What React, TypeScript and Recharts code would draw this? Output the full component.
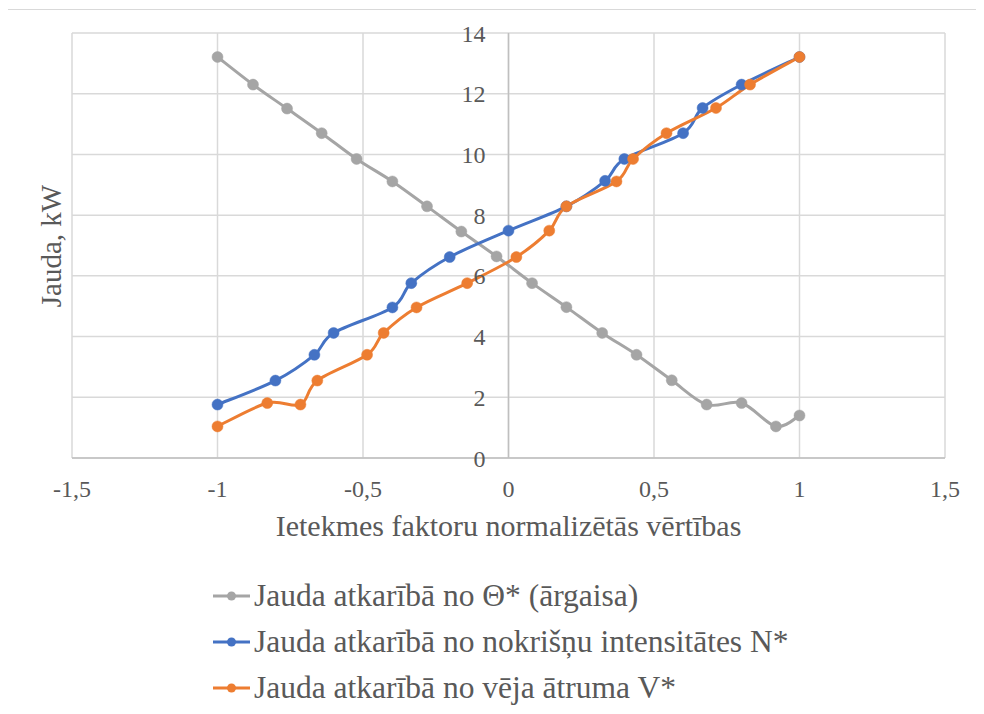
import { LineChart, Line, XAxis, YAxis, CartesianGrid, ReferenceLine, Legend } from 'recharts';

// Jauda atkarībā no Θ* (ārgaisa temperatūra)
const thetaX = [-1, -0.878, -0.761, -0.642, -0.522, -0.399, -0.28, -0.162, -0.041, 0.081, 0.199, 0.322, 0.44, 0.561, 0.681, 0.801, 0.919, 1];
const thetaPower = [13.21, 12.3, 11.51, 10.7, 9.85, 9.11, 8.29, 7.46, 6.64, 5.76, 4.97, 4.12, 3.4, 2.56, 1.76, 1.81, 1.04, 1.4];

// Jauda atkarībā no nokrišņu intensitātes N*
const rainX = [-1, -0.801, -0.667, -0.601, -0.399, -0.334, -0.202, 0, 0.199, 0.332, 0.398, 0.6, 0.667, 0.801, 1];
const rainPower = [1.76, 2.55, 3.4, 4.12, 4.96, 5.76, 6.62, 7.49, 8.29, 9.13, 9.85, 10.7, 11.53, 12.3, 13.21];

// Jauda atkarībā no vēja ātruma V*
const windX = [-1, -0.829, -0.715, -0.657, -0.486, -0.429, -0.316, -0.142, 0.027, 0.14, 0.199, 0.371, 0.428, 0.543, 0.713, 0.83, 1];
const windPower = [1.04, 1.81, 1.76, 2.55, 3.4, 4.12, 4.96, 5.76, 6.62, 7.49, 8.29, 9.11, 9.85, 10.7, 11.53, 12.3, 13.21];

const xTicks = [-1.5, -1, -0.5, 0, 0.5, 1, 1.5];
const yTicks = [0, 2, 4, 6, 8, 10, 12, 14];

const series = [
  { key: 'theta', name: 'Jauda atkarībā no Θ* (ārgaisa)', color: '#A5A5A5', xs: thetaX, ys: thetaPower },
  { key: 'rain', name: 'Jauda atkarībā no nokrišņu intensitātes N*', color: '#4472C4', xs: rainX, ys: rainPower },
  { key: 'wind', name: 'Jauda atkarībā no vēja ātruma V*', color: '#ED7D31', xs: windX, ys: windPower },
];

const toRows = (xs: number[], ys: number[]) => xs.map((x, i) => ({ x, y: ys[i] }));

// spreadsheet-style smoothed line: Catmull-Rom segments drawn as cubic beziers
const smoothCurve = (context: any) => {
  let pts: [number, number][] = [];
  return {
    areaStart() {},
    areaEnd() {},
    lineStart() {
      pts = [];
    },
    point(x: number, y: number) {
      pts.push([+x, +y]);
    },
    lineEnd() {
      if (!pts.length) return;
      context.moveTo(pts[0][0], pts[0][1]);
      for (let i = 0; i < pts.length - 1; i++) {
        const p0 = pts[i - 1] || pts[i];
        const p1 = pts[i];
        const p2 = pts[i + 1];
        const p3 = pts[i + 2] || p2;
        context.bezierCurveTo(
          p1[0] + (p2[0] - p0[0]) / 6,
          p1[1] + (p2[1] - p0[1]) / 6,
          p2[0] - (p3[0] - p1[0]) / 6,
          p2[1] - (p3[1] - p1[1]) / 6,
          p2[0],
          p2[1],
        );
      }
    },
  };
};

const FONT = 'Liberation Serif, Tinos, Times New Roman, DejaVu Serif, serif';
const TEXT = '#595959';
const W = 975;
const H = 704;
const PLOT_LEFT = 64;
const PLOT_RIGHT = 937;
const ZERO_X = (PLOT_LEFT + PLOT_RIGHT) / 2; // y axis crosses at x = 0

const comma = (v: number) => String(v).replace('.', ',');

const YTick = ({ y, payload }: any) => (
  <text x={ZERO_X - 23} y={y + 8.5} textAnchor="end" fontFamily={FONT} fontSize={24} fill={TEXT}>
    {comma(payload.value)}
  </text>
);

const XTick = ({ x, y, payload }: any) => (
  <text x={x} y={y + 39} textAnchor="middle" fontFamily={FONT} fontSize={24} fill={TEXT}>
    {comma(payload.value)}
  </text>
);

const XTitle = ({ viewBox }: any) => (
  <text
    x={viewBox.x + viewBox.width / 2}
    y={viewBox.y + 78}
    textAnchor="middle"
    fontFamily={FONT}
    fontSize={30}
    fill={TEXT}
  >
    Ietekmes faktoru normalizētās vērtības
  </text>
);

const YTitle = () => (
  <text
    x={53}
    y={236}
    transform="rotate(-90 53 236)"
    textAnchor="middle"
    fontFamily={FONT}
    fontSize={29}
    fill={TEXT}
  >
    Jauda, kW
  </text>
);

const LegendList = () => (
  <div style={{ fontFamily: FONT, fontSize: 31.5, color: TEXT }}>
    {series.map((s) => (
      <div key={s.key} style={{ height: 46, display: 'flex', alignItems: 'center', whiteSpace: 'nowrap' }}>
        <svg width={41} height={12}>
          <line x1={0} y1={6} x2={37} y2={6} stroke={s.color} strokeWidth={3} />
          <circle cx={18.5} cy={6} r={4.5} fill={s.color} />
        </svg>
        <span>{s.name}</span>
      </div>
    ))}
  </div>
);

export default function App() {
  return (
    <div
      style={{
        position: 'relative',
        width: W,
        height: H,
        margin: '1px 0 0 -1px',
        borderTop: '1px solid #d9d9d9',
        borderLeft: '1px solid #d9d9d9',
      }}
    >
      <LineChart width={W} height={H} margin={{ top: 23, right: W - PLOT_RIGHT, left: 0, bottom: 156 }}>
        <CartesianGrid stroke="#d9d9d9" strokeWidth={1.5} />
        <XAxis
          type="number"
          dataKey="x"
          domain={[-1.5, 1.5]}
          ticks={xTicks}
          height={100}
          tickLine={false}
          tickSize={0}
          tickMargin={0}
          axisLine={{ stroke: '#bfbfbf', strokeWidth: 1.5 }}
          tick={<XTick />}
          label={<XTitle />}
        />
        <YAxis
          type="number"
          domain={[0, 14]}
          ticks={yTicks}
          width={PLOT_LEFT}
          axisLine={false}
          tickLine={false}
          tick={<YTick />}
          label={<YTitle />}
        />
        <ReferenceLine x={0} stroke="#bfbfbf" strokeWidth={1.5} />
        {series.map((s) => (
          <Line
            key={s.key}
            data={toRows(s.xs, s.ys)}
            dataKey="y"
            name={s.name}
            type={smoothCurve as any}
            stroke={s.color}
            strokeWidth={3}
            dot={{ r: 5.5, fill: s.color, stroke: s.color, strokeWidth: 0.5 }}
            activeDot={false}
            isAnimationActive={false}
          />
        ))}
        <Legend
          layout="horizontal"
          verticalAlign="middle"
          align="center"
          content={<LegendList />}
          wrapperStyle={{ top: 563, left: 205, width: 700 }}
        />
      </LineChart>
    </div>
  );
}
